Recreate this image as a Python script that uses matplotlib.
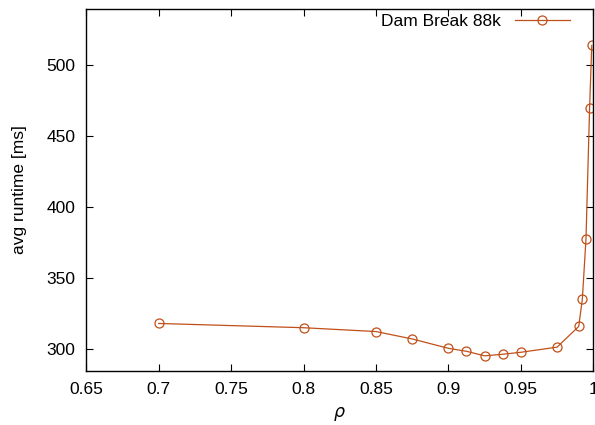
import matplotlib
matplotlib.use('Agg')
import matplotlib.pyplot as plt

rho = [0.7, 0.8, 0.85, 0.875, 0.9, 0.9125, 0.925, 0.9375, 0.95, 0.975,
       0.99, 0.9925, 0.995, 0.9975, 0.999]
runtime = [318.2, 315.2, 312.5, 307.3, 300.7, 298.6, 295.4, 296.5, 297.9, 301.5,
           316.1, 335.4, 377.5, 469.8, 514.0]

color = '#c0501a'

plt.rcParams['font.family'] = ['Liberation Sans', 'DejaVu Sans']
plt.rcParams['font.size'] = 12.5

fig, ax = plt.subplots(figsize=(5.95, 4.25), dpi=100)
ax.plot(rho, runtime, '-o', color=color, lw=0.9, ms=6.5, mfc='none', mew=0.9,
        label='Dam Break 88k')

ax.set_xlim(0.65, 1.0)
ax.set_ylim(285, 540)
ax.set_xticks([0.65, 0.7, 0.75, 0.8, 0.85, 0.9, 0.95, 1.0])
ax.set_xticklabels(['0.65', '0.7', '0.75', '0.8', '0.85', '0.9', '0.95', '1'])
ax.set_yticks([300, 350, 400, 450, 500])
ax.tick_params(direction='in', top=True, right=True, length=5, width=0.8, pad=8)
for s in ax.spines.values():
    s.set_linewidth(1.0)

ax.set_xlabel(r'$\rho$', labelpad=6)
ax.set_ylabel('avg runtime [ms]', labelpad=14)

ax.legend(loc='upper right', bbox_to_anchor=(0.965, 1.0), frameon=False,
          markerfirst=False, handlelength=3.2, handletextpad=0.8,
          borderaxespad=0.0, borderpad=0.3, fontsize=12.5)

plt.subplots_adjust(left=0.145, right=0.997, top=0.98, bottom=0.128)
fig.savefig('out.png', dpi=100)
